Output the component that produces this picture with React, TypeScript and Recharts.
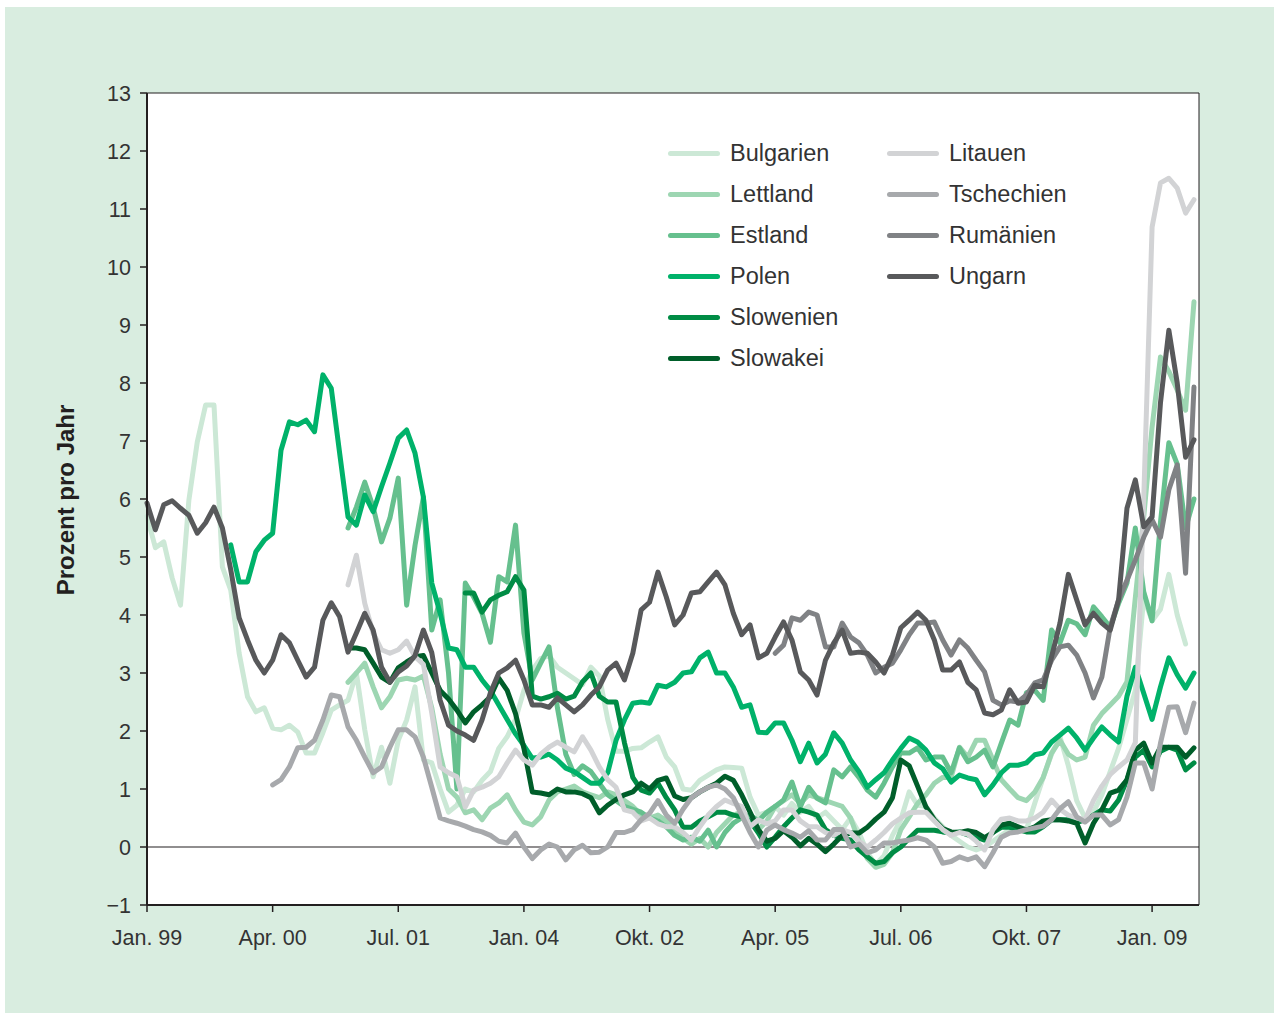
import { LineChart, Line, XAxis, YAxis, CartesianGrid, ReferenceLine, ReferenceArea } from "recharts";

// months since Jan. 99 (0 = Jan. 99)
const monthCount = 126;
const tickMonths = [0, 15, 30, 45, 60, 75, 90, 105, 120];
const tickLabels = ["Jan. 99", "Apr. 00", "Jul. 01", "Jan. 04", "Okt. 02", "Apr. 05", "Jul. 06", "Okt. 07", "Jan. 09"];
const yTicks = [-1, 0, 1, 2, 3, 4, 5, 6, 7, 8, 9, 10, 11, 12, 13];

// each series starts at a given month index
const bulgarienStart = 0;
const bulgarien = [
  5.7, 5.16, 5.26, 4.64, 4.17, 5.98, 6.98, 7.62, 7.62, 4.83,
  4.43, 3.34, 2.59, 2.33, 2.4, 2.05, 2.02, 2.1, 1.98, 1.62,
  1.62, 1.97, 2.36, 2.45, 2.53, 3.0, 2.02, 1.21, 1.72, 1.1,
  1.84, 2.19, 2.76, 1.5, 1.45, 1.0, 0.6, 0.72, 1.0, 0.95,
  1.15, 1.3, 1.7, 1.9, 2.2, 2.7, 3.05, 3.25, 3.3, 3.1,
  3.0, 2.9, 2.8, 3.1, 2.95, 2.2, 1.65, 1.65, 1.7, 1.71,
  1.81, 1.9, 1.55, 1.38, 1.0, 0.98, 1.15, 1.24, 1.33, 1.38,
  1.37, 1.36, 0.86, 0.55, 0.6, 0.7, 0.55, 0.75, 0.6, 0.7,
  0.5, 0.6, 0.45, 0.3, 0.5, 0.25, -0.1, -0.3, -0.15, 0.2,
  0.47, 0.95, 0.72, 0.7, 0.5, 0.35, 0.2, 0.1, 0.0, -0.05,
  0.0, 0.1, 0.2, 0.3, 0.3, 0.3, 0.76, 1.2, 1.6, 1.9,
  1.4, 0.8, 0.5, 0.6, 0.9, 1.3, 1.7, 2.2, 2.7, 4.3,
  3.9, 4.1, 4.7, 4.0, 3.5,
];

const lettlandStart = 24;
const lettland = [
  2.84, 3.0, 3.17, 2.76, 2.4, 2.59, 2.88, 2.91, 2.88, 2.95,
  2.4, 1.6, 1.0, 0.86, 0.59, 0.64, 0.47, 0.67, 0.76, 0.9,
  0.64, 0.43, 0.38, 0.52, 0.81, 0.95, 1.0, 1.05, 0.95, 0.9,
  0.85, 0.95, 0.9, 0.8, 0.7, 0.55, 0.5, 0.55, 0.45, 0.3,
  0.15, 0.05, 0.15, 0.0, 0.25, 0.4, 0.55, 0.6, 0.5, 0.3,
  0.45, 0.7, 0.8, 0.9, 0.75, 0.9, 0.85, 0.8, 0.75, 0.7,
  0.5, 0.1, -0.2, -0.35, -0.3, -0.1, 0.3, 0.52, 0.75, 0.9,
  1.1, 1.2, 1.2, 1.72, 1.55, 1.84, 1.84, 1.5, 1.16, 1.0,
  0.85, 0.8, 0.95, 1.2, 1.62, 1.84, 1.6, 1.5, 1.55, 2.1,
  2.3, 2.45, 2.6, 2.85, 4.3, 5.69, 7.24, 8.45, 8.2, 7.88,
  7.53, 9.4,
];

const estlandStart = 24;
const estland = [
  5.5, 5.86, 6.29, 5.86, 5.26, 5.67, 6.36, 4.17, 5.2, 6.03,
  3.74, 4.26, 3.0, 1.0, 4.55, 4.31, 4.03, 3.53, 4.66, 4.57,
  5.55, 3.69, 2.88, 3.17, 3.45, 2.4, 1.6, 1.25, 1.4, 1.3,
  1.1, 0.9, 0.8, 0.7, 0.65, 0.6, 0.5, 0.45, 0.35, 0.2,
  0.12, 0.17, 0.1, 0.29, 0.0, 0.25, 0.41, 0.5, 0.55, 0.45,
  0.6, 0.7, 0.81, 1.12, 0.69, 1.03, 0.84, 0.76, 1.33, 1.21,
  1.38, 1.2, 0.98, 0.86, 1.1, 1.38, 1.62, 1.62, 1.71, 1.5,
  1.55, 1.55, 1.28, 1.71, 1.47, 1.55, 1.67, 1.38, 1.79, 2.19,
  2.1, 2.66, 2.7, 2.53, 3.74, 3.52, 3.91, 3.85, 3.66, 4.14,
  3.97, 3.79, 4.2, 4.55, 5.5, 4.4, 3.9, 5.6, 6.97, 6.6,
  5.5, 6.0,
];

const polenStart = 10;
const polen = [
  5.21, 4.57, 4.57, 5.09, 5.29, 5.41, 6.84, 7.33, 7.28, 7.36,
  7.16, 8.14, 7.91, 6.79, 5.69, 5.55, 6.07, 5.78, 6.21, 6.62,
  7.05, 7.19, 6.79, 6.03, 4.55, 4.03, 3.43, 3.4, 3.1, 3.1,
  2.88, 2.7, 2.45, 2.2, 1.95, 1.75, 1.53, 1.55, 1.6, 1.5,
  1.36, 1.3, 1.2, 1.1, 1.1, 1.28, 1.84, 2.19, 2.48, 2.5,
  2.48, 2.79, 2.76, 2.84, 3.0, 3.02, 3.26, 3.36, 3.0, 3.0,
  2.76, 2.41, 2.45, 1.98, 1.97, 2.14, 2.14, 1.84, 1.47, 1.79,
  1.45, 1.6, 1.97, 1.79, 1.5, 1.3, 1.03, 1.16, 1.28, 1.5,
  1.7, 1.88, 1.81, 1.67, 1.45, 1.35, 1.12, 1.24, 1.19, 1.16,
  0.9, 1.07, 1.28, 1.41, 1.41, 1.45, 1.59, 1.62, 1.81, 1.93,
  2.05, 1.88, 1.67, 1.88, 2.07, 1.93, 1.81, 2.6, 3.1, 2.65,
  2.2, 2.76, 3.26, 2.97, 2.74, 3.0,
];

const slowenienStart = 38;
const slowenien = [
  4.38, 4.38, 4.05, 4.26, 4.34, 4.4, 4.66, 4.43, 2.6, 2.55,
  2.59, 2.65, 2.55, 2.6, 2.85, 3.0, 2.6, 2.5, 2.5, 1.8,
  1.2, 0.98, 0.93, 1.1, 0.85, 0.64, 0.34, 0.34, 0.45, 0.52,
  0.6, 0.6, 0.55, 0.52, 0.45, 0.24, 0.0, 0.17, 0.35, 0.5,
  0.64, 0.6, 0.55, 0.3, 0.2, 0.15, 0.12, -0.05, -0.17, -0.28,
  -0.25, -0.1, 0.0, 0.15, 0.29, 0.29, 0.29, 0.26, 0.24, 0.26,
  0.21, 0.17, 0.12, 0.25, 0.34, 0.34, 0.3, 0.26, 0.26, 0.35,
  0.47, 0.47, 0.47, 0.42, 0.47, 0.55, 0.64, 0.62, 0.81, 1.16,
  1.55, 1.67, 1.38, 1.65, 1.72, 1.67, 1.33, 1.45,
];

const slowakeiStart = 24;
const slowakei = [
  3.43, 3.43, 3.4, 3.17, 2.93, 2.84, 3.09, 3.19, 3.28, 3.3,
  3.0, 2.7, 2.55, 2.36, 2.14, 2.33, 2.45, 2.59, 2.91, 2.7,
  2.3, 1.7, 0.95, 0.93, 0.9, 1.0, 0.95, 0.95, 0.92, 0.85,
  0.59, 0.72, 0.82, 0.9, 0.95, 1.1, 1.0, 1.15, 1.19, 0.88,
  0.82, 0.85, 0.95, 1.03, 1.1, 1.22, 1.15, 0.9, 0.6, 0.3,
  0.1, 0.15, 0.28, 0.17, 0.02, 0.15, 0.05, -0.08, 0.05, 0.2,
  0.24, 0.24, 0.34, 0.48, 0.6, 0.85, 1.5, 1.4, 1.05, 0.69,
  0.47, 0.32, 0.26, 0.25, 0.28, 0.25, 0.16, 0.25, 0.38, 0.41,
  0.35, 0.29, 0.35, 0.45, 0.47, 0.47, 0.45, 0.41, 0.07, 0.41,
  0.64, 0.93, 0.98, 1.16, 1.67, 1.79, 1.45, 1.72, 1.72, 1.72,
  1.55, 1.71,
];

const litauenStart = 24;
const litauen = [
  4.52, 5.03, 4.2, 3.69, 3.4, 3.34, 3.4, 3.55, 3.28, 3.15,
  2.31, 1.38, 1.28, 1.21, 0.69, 0.98, 1.03, 1.1, 1.21, 1.45,
  1.67, 1.5, 1.41, 1.6, 1.72, 1.81, 1.72, 1.64, 1.9, 1.67,
  1.38, 1.16, 1.03, 0.64, 0.6, 0.45, 0.5, 0.4, 0.35, 0.35,
  0.25, 0.12, 0.35, 0.55, 0.7, 0.81, 0.75, 0.7, 0.35, 0.47,
  0.4, 0.45, 0.64, 0.64, 0.45, 0.35, 0.35, 0.25, 0.2, 0.3,
  0.25, 0.1, 0.0, 0.12, 0.25, 0.4, 0.5, 0.59, 0.6, 0.6,
  0.45, 0.3, 0.2, 0.25, 0.22, 0.1, -0.05, 0.3, 0.48, 0.5,
  0.45, 0.45, 0.5, 0.6, 0.81, 0.65, 0.55, 0.5, 0.47, 0.8,
  1.05, 1.25, 1.38, 1.5, 1.8, 6.0, 10.69, 11.45, 11.53, 11.36,
  10.93, 11.16,
];

const tschechienStart = 15;
const tschechien = [
  1.07, 1.16, 1.38, 1.71, 1.72, 1.84, 2.19, 2.62, 2.59, 2.07,
  1.84, 1.55, 1.28, 1.38, 1.72, 2.02, 2.02, 1.9, 1.55, 1.03,
  0.5, 0.45, 0.41, 0.36, 0.3, 0.26, 0.2, 0.1, 0.07, 0.24,
  0.0, -0.2, -0.05, 0.05, 0.0, -0.22, -0.05, 0.03, -0.1, -0.09,
  0.0, 0.25, 0.25, 0.3, 0.47, 0.58, 0.8, 0.55, 0.41, 0.65,
  0.85, 0.95, 1.03, 1.07, 1.0, 0.85, 0.55, 0.25, 0.0, 0.29,
  0.38, 0.3, 0.24, 0.17, 0.28, 0.12, 0.12, 0.3, 0.3, 0.0,
  0.05, -0.1, -0.05, 0.07, 0.07, 0.1, 0.12, 0.16, 0.12, 0.0,
  -0.28, -0.25, -0.17, -0.22, -0.17, -0.34, -0.1, 0.17, 0.24, 0.26,
  0.3, 0.33, 0.36, 0.47, 0.66, 0.78, 0.52, 0.43, 0.55, 0.55,
  0.38, 0.47, 0.86, 1.45, 1.45, 1.0, 1.79, 2.41, 2.42, 1.97,
  2.48,
];

const rumaenienStart = 75;
const rumaenien = [
  3.34, 3.48, 3.95, 3.91, 4.05, 4.0, 3.45, 3.45, 3.86, 3.62,
  3.52, 3.31, 3.0, 3.1, 3.17, 3.4, 3.66, 3.86, 3.86, 3.88,
  3.57, 3.31, 3.57, 3.43, 3.22, 3.02, 2.53, 2.45, 2.52, 2.5,
  2.62, 2.83, 2.88, 3.22, 3.45, 3.48, 3.31, 3.0, 2.57, 2.93,
  3.79, 4.26, 4.6, 4.95, 5.34, 5.64, 5.34, 6.16, 6.59, 4.72,
  7.93,
];

const ungarnStart = 0;
const ungarn = [
  5.93, 5.47, 5.9, 5.97, 5.84, 5.72, 5.41, 5.59, 5.86, 5.5,
  4.78, 3.95, 3.57, 3.22, 3.0, 3.22, 3.66, 3.52, 3.22, 2.93,
  3.1, 3.91, 4.21, 3.97, 3.36, 3.69, 4.03, 3.74, 3.1, 2.84,
  3.02, 3.12, 3.3, 3.74, 3.35, 2.53, 2.1, 2.0, 1.93, 1.84,
  2.19, 2.66, 3.0, 3.09, 3.22, 2.88, 2.45, 2.45, 2.41, 2.57,
  2.45, 2.33, 2.45, 2.62, 2.76, 3.05, 3.17, 2.88, 3.34, 4.09,
  4.22, 4.74, 4.31, 3.83, 4.0, 4.38, 4.4, 4.57, 4.74, 4.52,
  4.03, 3.66, 3.83, 3.26, 3.34, 3.62, 3.88, 3.57, 3.02, 2.88,
  2.62, 3.22, 3.52, 3.74, 3.34, 3.36, 3.34, 3.19, 3.0, 3.31,
  3.78, 3.91, 4.05, 3.91, 3.57, 3.05, 3.05, 3.19, 2.84, 2.71,
  2.31, 2.28, 2.36, 2.71, 2.48, 2.5, 2.79, 2.76, 3.28, 3.86,
  4.7, 4.26, 3.83, 4.03, 3.86, 3.74, 4.26, 5.84, 6.33, 5.52,
  5.69, 7.66, 8.91, 8.0, 6.72, 7.02,
];

const series = [
  { key: "bulgarien", name: "Bulgarien", color: "#cce8d6", start: bulgarienStart, values: bulgarien },
  { key: "lettland", name: "Lettland", color: "#9dd6b2", start: lettlandStart, values: lettland },
  { key: "estland", name: "Estland", color: "#66c08e", start: estlandStart, values: estland },
  { key: "polen", name: "Polen", color: "#00b26a", start: polenStart, values: polen },
  { key: "slowenien", name: "Slowenien", color: "#008c45", start: slowenienStart, values: slowenien },
  { key: "slowakei", name: "Slowakei", color: "#005e2a", start: slowakeiStart, values: slowakei },
  { key: "litauen", name: "Litauen", color: "#d2d3d5", start: litauenStart, values: litauen },
  { key: "tschechien", name: "Tschechien", color: "#a7a9ac", start: tschechienStart, values: tschechien },
  { key: "rumaenien", name: "Rumänien", color: "#808285", start: rumaenienStart, values: rumaenien },
  { key: "ungarn", name: "Ungarn", color: "#58595b", start: ungarnStart, values: ungarn },
];

const rows = Array.from({ length: monthCount }, (_, m) => {
  const row: Record<string, number | null> = { m };
  series.forEach((s) => {
    const v = s.values[m - s.start];
    row[s.key] = v === undefined ? null : v;
  });
  return row;
});

const FONT = "'Liberation Sans', Arial, sans-serif";
const INK = "#231f20";
const X_MAX = 125.6;

function Legend() {
  const left = series.slice(0, 6);
  const right = series.slice(6);
  const item = (s, x, i) => (
    <div key={s.key} style={{ position: "absolute", left: x, top: 146 + i * 41 - 14, height: 28, display: "flex", alignItems: "center" }}>
      <div style={{ width: 52, height: 5, borderRadius: 3, background: s.color }} />
      <span style={{ marginLeft: 10, fontSize: 23.5, color: "#333", whiteSpace: "nowrap" }}>{s.name}</span>
    </div>
  );
  return (
    <>
      {left.map((s, i) => item(s, 663, i))}
      {right.map((s, i) => item(s, 882, i))}
    </>
  );
}

export default function App() {
  return (
    <div style={{ position: "absolute", left: 5, top: 7, width: 1269, height: 1006, background: "#d9ede0", fontFamily: FONT }}>
      <LineChart width={1269} height={1006} data={rows} margin={{ top: 86, right: 75, bottom: 48, left: 62 }}>
        <CartesianGrid horizontal={false} vertical={false} fill="#ffffff" />
        <XAxis
          dataKey="m"
          type="number"
          domain={[0, X_MAX]}
          ticks={tickMonths}
          interval={0}
          tickFormatter={(v) => tickLabels[tickMonths.indexOf(v)]}
          axisLine={{ stroke: INK, strokeWidth: 2 }}
          tickLine={{ stroke: INK, strokeWidth: 1.5 }}
          tickSize={7}
          tickMargin={18}
          height={60}
          tick={{ fill: "#333", fontSize: 21.5, fontFamily: FONT }}
        />
        <YAxis
          type="number"
          domain={[-1, 13]}
          ticks={yTicks}
          interval={0}
          tickFormatter={(v) => (v < 0 ? "\u2212" + Math.abs(v) : String(v))}
          axisLine={{ stroke: INK, strokeWidth: 2 }}
          tickLine={{ stroke: INK, strokeWidth: 1.5 }}
          tickSize={7}
          tickMargin={9}
          width={80}
          tick={{ fill: "#333", fontSize: 21.5, fontFamily: FONT }}
        />
        <ReferenceArea x1={0} x2={X_MAX} y1={-1} y2={13} fill="none" stroke={INK} strokeWidth={1} />
        <ReferenceLine y={0} stroke={INK} strokeWidth={1.2} />
        {series.map((s) => (
          <Line
            key={s.key}
            dataKey={s.key}
            name={s.name}
            type="linear"
            stroke={s.color}
            strokeWidth={5}
            strokeLinejoin="round"
            strokeLinecap="round"
            dot={false}
            connectNulls={false}
            isAnimationActive={false}
          />
        ))}
      </LineChart>
      <Legend />
      <div
        style={{
          position: "absolute",
          left: 61,
          top: 493,
          transform: "translate(-50%, -50%) rotate(-90deg)",
          fontSize: 24,
          fontWeight: "bold",
          color: INK,
          whiteSpace: "nowrap",
        }}
      >
        Prozent pro Jahr
      </div>
    </div>
  );
}
